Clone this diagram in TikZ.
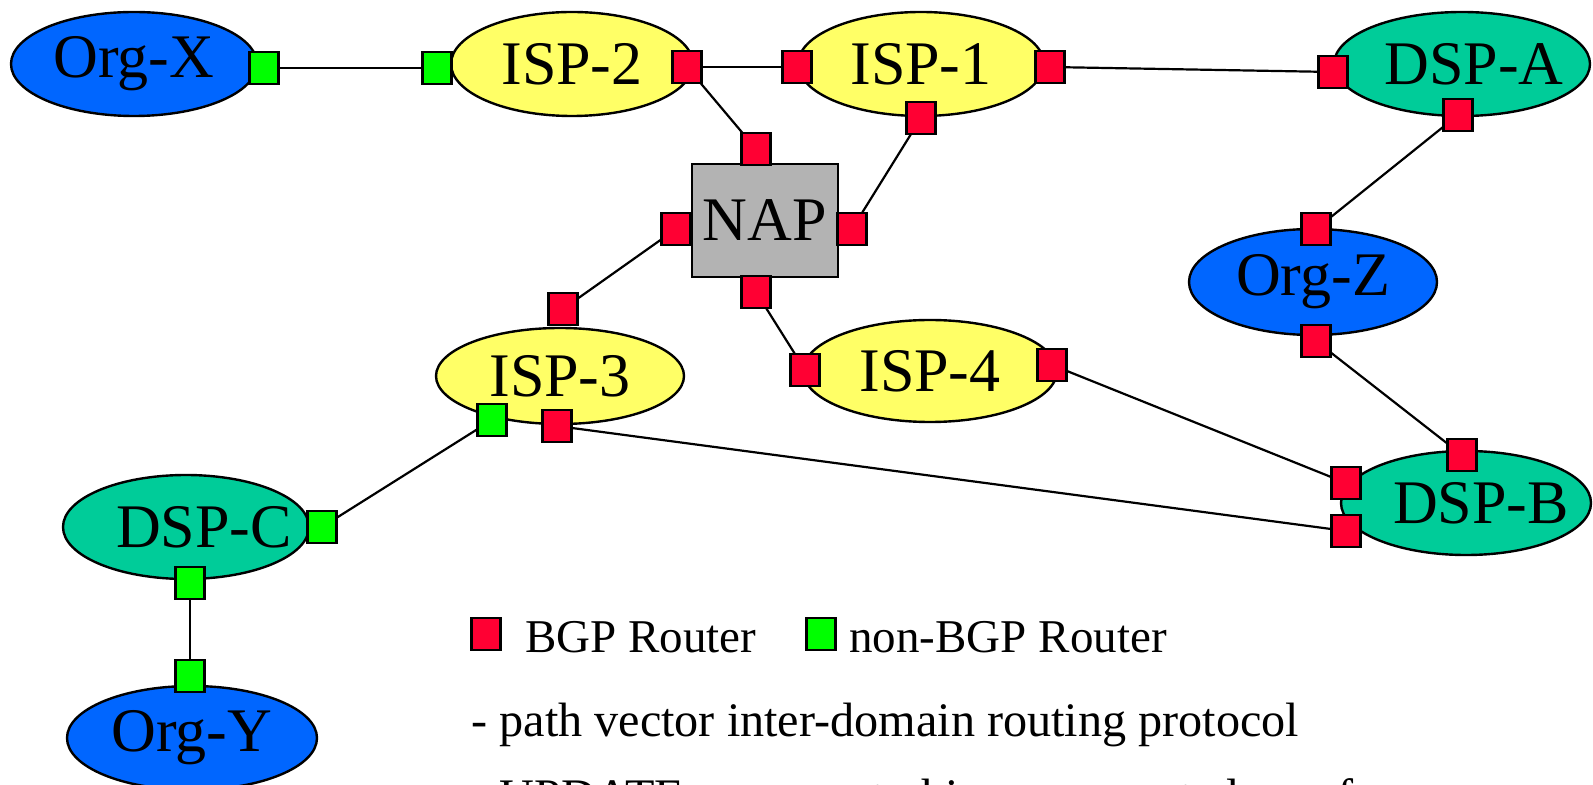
\documentclass[tikz,border=0pt]{standalone}
\usepackage{fontspec}
\setmainfont{Liberation Serif}
\usetikzlibrary{shapes.geometric}
\definecolor{orgblue}{RGB}{0,102,255}
\definecolor{ispyellow}{RGB}{255,255,102}
\definecolor{dspgreen}{RGB}{0,204,153}
\definecolor{napgray}{RGB}{179,179,179}
\definecolor{bgpred}{RGB}{255,0,51}
\definecolor{nonbgp}{RGB}{0,255,0}
\pgfdeclarelayer{bg}
\pgfsetlayers{bg,main}
\begin{document}
\begin{tikzpicture}[x=0.5pt,y=-0.5pt,
  big/.style={font=\fontsize{31pt}{36pt}\selectfont},
  ell/.style={ellipse,draw=black,line width=1.2pt,inner sep=0pt,big},
  org/.style={ell,fill=orgblue},
  isp/.style={ell,fill=ispyellow},
  dsp/.style={ell,fill=dspgreen},
  lbl/.style={big,inner sep=0pt},
  rtr/.style={rectangle,draw=black,line width=1.1pt,minimum width=14.5pt,minimum height=16pt,inner sep=0pt},
  bgp/.style={rtr,fill=bgpred},
  nbgp/.style={rtr,fill=nonbgp},
  link/.style={line width=1.1pt},
  leg/.style={font=\fontsize{23.5pt}{28pt}\selectfont,anchor=base west,inner sep=0pt},
  body/.style={font=\fontsize{24.1pt}{29pt}\selectfont,anchor=base west,inner sep=0pt}]
\useasboundingbox (0,0) rectangle (1593,785);

% domains
\node[org, minimum width=123pt, minimum height=52pt] (orgx) at (134,64) {Org-X};
\node[isp, minimum width=121pt, minimum height=52pt] (isp2) at (572,64) {ISP-2};
\node[isp, minimum width=123pt, minimum height=52pt] (isp1) at (921,64) {ISP-1};
\node[dsp, minimum width=128pt, minimum height=52pt, label={[lbl,xshift=6pt]center:DSP-A}] (dspa) at (1462,64) {};
\node[rectangle, draw=black, line width=1.2pt, fill=napgray, minimum width=73pt, minimum height=56.5pt, big, inner sep=0pt] (nap) at (765,220.5) {NAP};
\node[isp, minimum width=124pt, minimum height=48pt] (isp3) at (560,376) {ISP-3};
\node[isp, minimum width=127pt, minimum height=51pt] (isp4) at (930,371) {ISP-4};
\node[org, minimum width=124pt, minimum height=53pt] (orgz) at (1313,282) {Org-Z};
\node[dsp, minimum width=125pt, minimum height=52pt, label={[lbl,xshift=7.5pt]center:DSP-B}] (dspb) at (1466,503) {};
\node[dsp, minimum width=123pt, minimum height=52pt, label={[lbl,xshift=9pt]center:DSP-C}] (dspc) at (186,527) {};
\node[org, minimum width=125pt, minimum height=52pt] (orgy) at (192,738) {Org-Y};

% routers
\node[nbgp] (rx)   at (264,68) {};
\node[nbgp] (r2g)  at (437,68) {};
\node[bgp]  (r2r)  at (687,67) {};
\node[bgp]  (r1l)  at (797,67) {};
\node[bgp]  (r1r)  at (1050,67) {};
\node[bgp]  (r1b)  at (921,118) {};
\node[bgp]  (ral)  at (1333,72) {};
\node[bgp]  (rab)  at (1458,115) {};
\node[bgp]  (rnt)  at (756,149) {};
\node[bgp]  (rnl)  at (676,229) {};
\node[bgp]  (rnr)  at (852,229) {};
\node[bgp]  (rnb)  at (756,292) {};
\node[bgp]  (r3t)  at (563,309) {};
\node[nbgp] (r3g)  at (492,420) {};
\node[bgp]  (r3r)  at (557,426) {};
\node[bgp]  (r4l)  at (805,370) {};
\node[bgp]  (r4r)  at (1052,365) {};
\node[bgp]  (rzt)  at (1316,229) {};
\node[bgp]  (rzb)  at (1316,341) {};
\node[bgp]  (rbt)  at (1462,455) {};
\node[bgp]  (rbu)  at (1346,483) {};
\node[bgp]  (rbl)  at (1346,531) {};
\node[nbgp] (rcr)  at (322,527) {};
\node[nbgp] (rcb)  at (190,583) {};
\node[nbgp] (ryt)  at (190,676) {};

% links
\begin{pgfonlayer}{bg}
\fill[white] (0,0) rectangle (1593,785);
\draw[link] (rx.center) -- (r2g.center);
\draw[link] (r2r.center) -- (r1l.center);
\draw[link] (r1r.center) -- (ral.center);
\draw[link] (r2r.center) -- (rnt.center);
\draw[link] (r1b.center) -- (rnr.center);
\draw[link] (rnl.center) -- (r3t.center);
\draw[link] (rnb.center) -- (r4l.center);
\draw[link] (rab.center) -- (rzt.center);
\draw[link] (rzb.center) -- (rbt.center);
\draw[link] (r4r.center) -- (rbu.center);
\draw[link] (r3r.center) -- (rbl.center);
\draw[link] (r3g.center) -- (rcr.center);
\draw[link] (rcb.center) -- (ryt.center);
\end{pgfonlayer}

% legend
\node[bgp]  (legr) at (486,634) {};
\node[nbgp] (legg) at (821,634) {};
\node[leg] (legrt) at (525,652) {BGP Router};
\node[leg] (leggt) at (849,652) {non-BGP Router};

\node[body] (t1) at (471,736) {- path vector inter-domain routing protocol};
\node[body] (t2) at (471,812) {- UPDATE message to his peers, route loss of};
\end{tikzpicture}
\end{document}
